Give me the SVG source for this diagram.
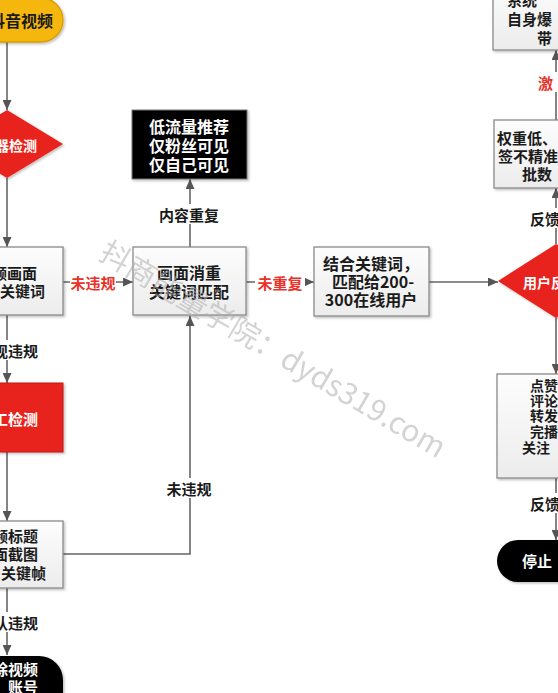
<svg xmlns="http://www.w3.org/2000/svg" width="558" height="693" viewBox="0 0 558 693">
<style>
text{font-family:"Noto Sans CJK SC","Liberation Sans",sans-serif;font-weight:bold;dominant-baseline:central}
.box{fill:url(#g);stroke:#8a8a8a;stroke-width:1.3}
.t{font-size:15px;fill:#1a1a1a}
.tw{font-size:15px;fill:#fff}
.lbl{font-size:15px;fill:#1a1a1a}
.red{font-size:15px;fill:#e8322a}
.conn{fill:none;stroke:#666;stroke-width:1.6}
.bg{fill:#fff}
</style>
<defs>
<linearGradient id="g" x1="0" y1="0" x2="0" y2="1"><stop offset="0" stop-color="#fdfdfd"/><stop offset="1" stop-color="#ececec"/></linearGradient>
<filter id="sh" x="-10%" y="-10%" width="130%" height="130%"><feDropShadow dx="1.5" dy="1.5" stdDeviation="1.2" flood-color="#000" flood-opacity="0.25"/></filter>
<marker id="a" markerUnits="userSpaceOnUse" markerWidth="10" markerHeight="9" refX="10" refY="4.5" orient="auto"><path d="M0,0 L10,4.5 L0,9 z" fill="#555"/></marker>
</defs>
<rect width="558" height="693" fill="#fff"/>

<g id="connectors">
<path class="conn" d="M7,42 V110" marker-end="url(#a)"/>
<path class="conn" d="M7,178 V247" marker-end="url(#a)"/>
<path class="conn" d="M63,282 H133" marker-end="url(#a)"/>
<path class="conn" d="M7,315 V383" marker-end="url(#a)"/>
<path class="conn" d="M7,452 V521" marker-end="url(#a)"/>
<path class="conn" d="M7,588 V655" marker-end="url(#a)"/>
<path class="conn" d="M63,554 H190 V316" marker-end="url(#a)"/>
<path class="conn" d="M190,247 V179" marker-end="url(#a)"/>
<path class="conn" d="M246,282 H314" marker-end="url(#a)"/>
<path class="conn" d="M429,282 H498" marker-end="url(#a)"/>
<path class="conn" d="M556,244 V188" marker-end="url(#a)"/>
<path class="conn" d="M556,120 V50" marker-end="url(#a)"/>
<path class="conn" d="M556,318 V374" marker-end="url(#a)"/>
<path class="conn" d="M556,478 V540" marker-end="url(#a)"/>
<rect class="bg" x="70" y="272" width="46" height="20"/>
<text class="red" x="93" y="282" text-anchor="middle">未违规</text>
<rect class="bg" x="0" y="340" width="40" height="20"/>
<text class="lbl" x="38" y="350" text-anchor="end">现违规</text>
<rect class="bg" x="0" y="612" width="40" height="20"/>
<text class="lbl" x="38" y="622" text-anchor="end">认违规</text>
<rect class="bg" x="164" y="478" width="50" height="20"/>
<text class="lbl" x="189" y="488" text-anchor="middle">未违规</text>
<rect class="bg" x="154" y="204" width="70" height="20"/>
<text class="lbl" x="189" y="214" text-anchor="middle">内容重复</text>
<rect class="bg" x="255" y="272" width="50" height="20"/>
<text class="red" x="280" y="282" text-anchor="middle">未重复</text>
<rect class="bg" x="536" y="72" width="22" height="20"/>
<text class="red" x="538" y="82">激</text>
<rect class="bg" x="528" y="208" width="30" height="20"/>
<text class="lbl" x="530" y="218">反馈</text>
<rect class="bg" x="528" y="493" width="30" height="20"/>
<text class="lbl" x="530" y="503">反馈</text>
</g>

<g id="start">
<rect x="-60" y="-2" width="123" height="44" rx="22" fill="#f5b70f" stroke="#d99c00" stroke-width="1.3" filter="url(#sh)"/>
<text class="t" x="21" y="20" text-anchor="middle" style="font-size:16px">抖音视频</text>
</g>
<g id="machine-check">
<polygon points="7,110 63,144 7,178 -49,144" fill="#e8201a" filter="url(#sh)"/>
<text class="tw" x="37" y="145" text-anchor="end" style="font-size:14px">机器检测</text>
</g>
<g id="frame-keywords">
<rect class="box" x="-50" y="247" width="113" height="68" filter="url(#sh)"/>
<text class="t" x="37" y="272" text-anchor="end">频画面</text>
<text class="t" x="45" y="290" text-anchor="end">关键词</text>
</g>
<g id="manual-check">
<rect x="-50" y="383" width="113" height="69" fill="#e8201a" stroke="#c41810" stroke-width="1" filter="url(#sh)"/>
<text class="tw" x="38" y="418" text-anchor="end">人工检测</text>
</g>
<g id="title-frames">
<rect class="box" x="-50" y="521" width="113" height="67" filter="url(#sh)"/>
<text class="t" x="38" y="535" text-anchor="end">频标题</text>
<text class="t" x="38" y="553" text-anchor="end">面截图</text>
<text class="t" x="46" y="572" text-anchor="end">关键帧</text>
</g>
<g id="delete">
<rect x="-60" y="656" width="123" height="60" rx="24" fill="#000" filter="url(#sh)"/>
<text class="tw" x="38" y="668" text-anchor="end">除视频</text>
<text class="tw" x="38" y="686" text-anchor="end">账号</text>
</g>
<g id="low-traffic">
<rect x="132" y="110" width="115" height="69" fill="#000" stroke="#777" stroke-width="1" filter="url(#sh)"/>
<text class="tw" x="189" y="126" text-anchor="middle" style="font-size:16px">低流量推荐</text>
<text class="tw" x="189" y="145" text-anchor="middle" style="font-size:16px">仅粉丝可见</text>
<text class="tw" x="189" y="164" text-anchor="middle" style="font-size:16px">仅自己可见</text>
</g>
<g id="dedup">
<rect class="box" x="133" y="247" width="113" height="68" filter="url(#sh)"/>
<text class="t" x="189" y="272" text-anchor="middle" style="font-size:16px">画面消重</text>
<text class="t" x="189" y="291" text-anchor="middle" style="font-size:16px">关键词匹配</text>
</g>
<g id="match-users">
<rect class="box" x="314" y="247" width="115" height="69" filter="url(#sh)"/>
<text class="t" x="371" y="263" text-anchor="middle" style="font-size:16px">结合关键词，</text>
<text class="t" x="373" y="281" text-anchor="middle" style="font-size:16px">匹配给200-</text>
<text class="t" x="371" y="299" text-anchor="middle" style="font-size:16px">300在线用户</text>
</g>
<g id="user-feedback">
<polygon points="556,244 614,281 556,318 498,281" fill="#e8201a" filter="url(#sh)"/>
<text class="tw" x="523" y="282" style="font-size:14px">用户反</text>
</g>
<g id="metrics">
<rect class="box" x="497" y="374" width="120" height="104" filter="url(#sh)"/>
<text class="t" x="530" y="385" style="font-size:14px">点赞</text>
<text class="t" x="530" y="400" style="font-size:14px">评论</text>
<text class="t" x="530" y="415" style="font-size:14px">转发</text>
<text class="t" x="530" y="431" style="font-size:14px">完播</text>
<text class="t" x="522" y="447" style="font-size:14px">关注</text>
</g>
<g id="stop">
<rect x="497" y="540" width="120" height="42" rx="21" fill="#000" filter="url(#sh)"/>
<text class="tw" x="522" y="560">停止</text>
</g>
<g id="low-weight">
<rect class="box" x="494" y="120" width="120" height="68" filter="url(#sh)"/>
<text class="t" x="497" y="137">权重低、</text>
<text class="t" x="498" y="155">签不精准</text>
<text class="t" x="522" y="173">批数</text>
</g>
<g id="system-boost">
<rect class="box" x="493" y="-20" width="120" height="70" filter="url(#sh)"/>
<text class="t" x="507" y="-1">系统</text>
<text class="t" x="507" y="18">自身爆</text>
<text class="t" x="537" y="37">带</text>
</g>
<text x="104" y="247" transform="rotate(30.5 104 247)" style="font-size:30px;font-weight:normal;fill:#b0b0b0;opacity:0.55">抖商能量学院：dyds319.com</text>
</svg>
